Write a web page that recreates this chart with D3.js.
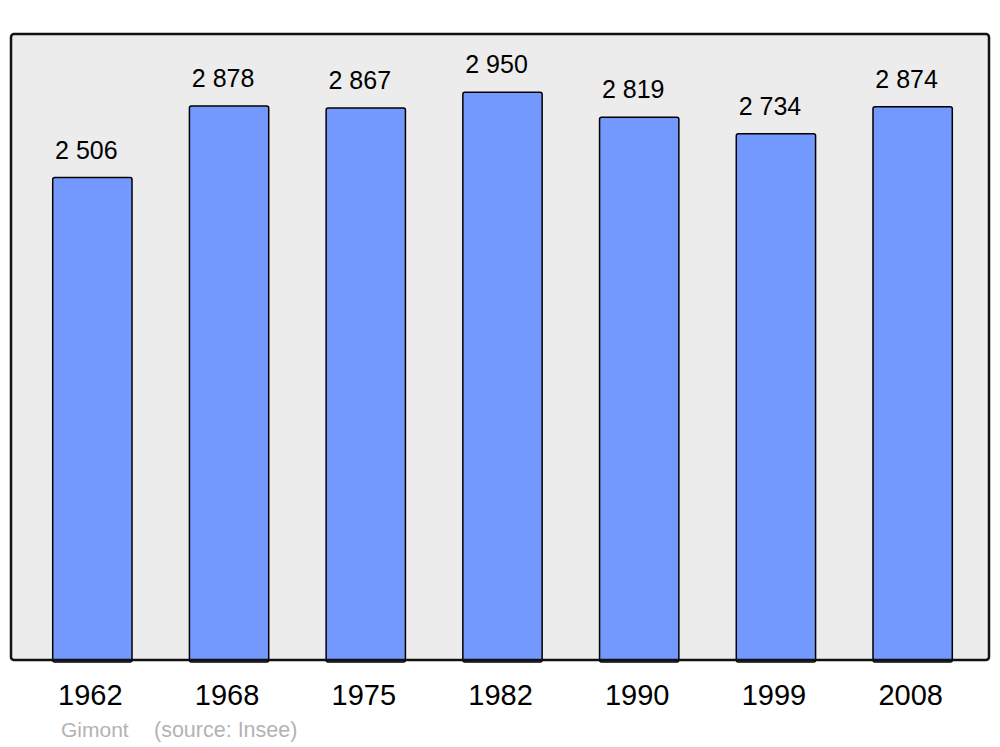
<!DOCTYPE html>
<html>
<head>
<meta charset="utf-8">
<script src="https://cdn.jsdelivr.net/npm/d3@7"></script>
<style>
  html, body { margin: 0; padding: 0; background: #fff; }
  svg { display: block; font-family: "Liberation Sans", Arial, sans-serif; }
</style>
</head>
<body>
<svg id="chart" width="1000" height="747"></svg>
<script>
const years = ["1962", "1968", "1975", "1982", "1990", "1999", "2008"];
const population = [2506, 2878, 2867, 2950, 2819, 2734, 2874];
const valueLabels = ["2 506", "2 878", "2 867", "2 950", "2 819", "2 734", "2 874"];
const author = "Gimont";
const source = "(source: Insee)";

const svg = d3.select("#chart");
const frame = { left: 11, right: 989, top: 34, bottom: 660 };

const x = d3.scaleBand()
  .domain(years)
  .range([24, 981])
  .paddingInner(0.42)
  .paddingOuter(0.21);

const y = d3.scaleLinear()
  .domain([0, 3252])
  .range([frame.bottom, frame.top]);

svg.append("rect")
  .attr("x", frame.left)
  .attr("y", frame.top)
  .attr("width", frame.right - frame.left)
  .attr("height", frame.bottom - frame.top)
  .attr("rx", 3)
  .attr("fill", "#ececec");

const data = years.map((yr, i) => ({ year: yr, value: population[i], label: valueLabels[i] }));

svg.selectAll("rect.bar")
  .data(data)
  .join("rect")
  .attr("class", "bar")
  .attr("x", d => x(d.year))
  .attr("y", d => y(d.value))
  .attr("width", x.bandwidth())
  .attr("height", d => y(0) - y(d.value) + 2)
  .attr("rx", 2)
  .attr("fill", "#7399ff")
  .attr("stroke", "#000")
  .attr("stroke-width", 1.5);

svg.selectAll("text.val")
  .data(data)
  .join("text")
  .attr("class", "val")
  .attr("x", d => x(d.year) + x.bandwidth() / 2 - 6)
  .attr("y", d => y(d.value) - 19)
  .attr("text-anchor", "middle")
  .attr("font-size", 25)
  .attr("fill", "#000")
  .text(d => d.label);

svg.append("rect")
  .attr("x", frame.left)
  .attr("y", frame.top)
  .attr("width", frame.right - frame.left)
  .attr("height", frame.bottom - frame.top)
  .attr("rx", 3)
  .attr("fill", "none")
  .attr("stroke", "#111")
  .attr("stroke-width", 2.5);

const xAxis = svg.append("g")
  .attr("transform", `translate(0,${frame.bottom})`)
  .call(d3.axisBottom(x).tickSize(0).tickPadding(0));
xAxis.select(".domain").remove();
xAxis.selectAll("text")
  .attr("dy", null)
  .attr("y", 45)
  .attr("x", -2)
  .attr("font-size", 29)
  .attr("font-family", "Liberation Sans, Arial, sans-serif")
  .attr("fill", "#000");

svg.append("text")
  .attr("x", 61)
  .attr("y", 737)
  .attr("font-size", 21)
  .attr("fill", "#b3b3b3")
  .text(author);

svg.append("text")
  .attr("x", 154)
  .attr("y", 737)
  .attr("font-size", 21.5)
  .attr("fill", "#b3b3b3")
  .text(source);
</script>
</body>
</html>
